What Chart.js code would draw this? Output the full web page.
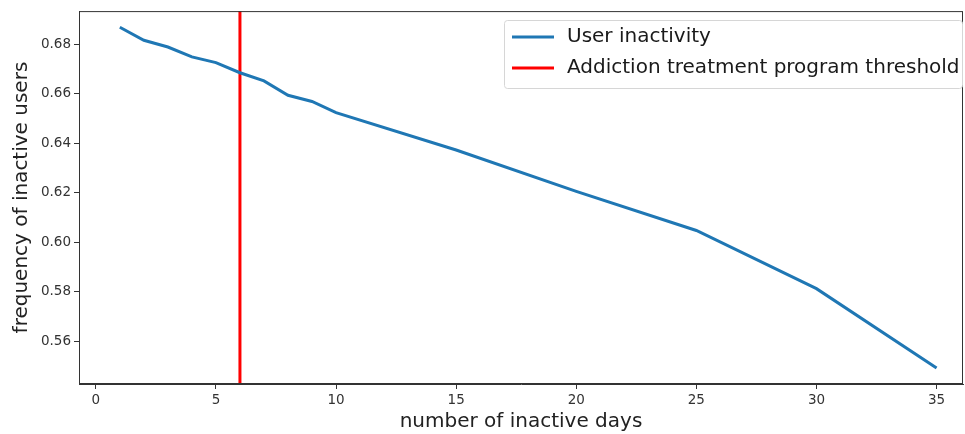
<!DOCTYPE html>
<html>
<head>
<meta charset="utf-8">
<script src="https://cdn.jsdelivr.net/npm/chart.js@4/dist/chart.umd.min.js"></script>
<style>
  html, body { margin: 0; padding: 0; background: #fff; }
  #wrap { width: 965px; height: 434px; }
</style>
</head>
<body>
<div id="wrap"><canvas id="inactivityChart" width="965" height="434"></canvas></div>
<script>
// inactive days and the share of users still inactive
const days = [1, 2, 3, 4, 5, 6, 7, 8, 9, 10, 15, 20, 25, 30, 35];
const inactiveFreq = [0.6868, 0.6815, 0.6788, 0.6748, 0.6725, 0.6684, 0.6651, 0.6593, 0.6568, 0.6523, 0.6372, 0.6205, 0.6047, 0.5812, 0.5492];
const thresholdDay = 6;
const xTicks = [0, 5, 10, 15, 20, 25, 30, 35];
const yTicks = [0.56, 0.58, 0.60, 0.62, 0.64, 0.66, 0.68];
const xRange = [-0.7, 36.1];
const yRange = [0.5427, 0.6933];

const seriesLabel = 'User inactivity';
const thresholdLabel = 'Addiction treatment program threshold';

const font = 'DejaVu Sans';

// frame on all four sides plus a matplotlib-like legend in the top right
const framePlugin = {
    id: 'frame',
    afterDraw(chart) {
        const { ctx, chartArea } = chart;
        ctx.save();
        ctx.strokeStyle = '#333';
        ctx.lineWidth = 1;
        ctx.strokeRect(chartArea.left + 0.5, chartArea.top + 0.5,
            chartArea.right - chartArea.left - 1, chartArea.bottom - chartArea.top - 1);

        // legend
        const boxX = 504, boxY = 20, boxW = 458, boxH = 68;
        ctx.fillStyle = 'rgba(255,255,255,0.8)';
        ctx.strokeStyle = '#d6d6d6';
        ctx.beginPath();
        ctx.roundRect(boxX + 0.5, boxY + 0.5, boxW, boxH, 3);
        ctx.fill();
        ctx.stroke();
        ctx.font = '20px "' + font + '"';
        ctx.textBaseline = 'middle';
        chart.data.datasets.forEach((ds, i) => {
            const y = boxY + 17 + i * 31;
            ctx.strokeStyle = ds.borderColor;
            ctx.lineWidth = 3;
            ctx.beginPath();
            ctx.moveTo(boxX + 8, y);
            ctx.lineTo(boxX + 50, y);
            ctx.stroke();
            ctx.fillStyle = '#1a1a1a';
            ctx.fillText(ds.label, boxX + 63, y);
        });
        ctx.restore();
    }
};

new Chart(document.getElementById('inactivityChart').getContext('2d'), {
    type: 'line',
    data: {
        datasets: [
            {
                label: seriesLabel,
                data: days.map((d, i) => ({ x: d, y: inactiveFreq[i] })),
                borderColor: '#1f77b4',
                borderWidth: 3,
                pointRadius: 0,
                tension: 0,
                fill: false,
            },
            {
                label: thresholdLabel,
                data: [{ x: thresholdDay, y: yRange[0] }, { x: thresholdDay, y: yRange[1] }],
                borderColor: '#ff0000',
                borderWidth: 3,
                pointRadius: 0,
                fill: false,
            },
        ],
    },
    options: {
        responsive: false,
        animation: false,
        layout: { padding: { top: 10, right: 2, bottom: 0, left: 10 } },
        plugins: {
            legend: { display: false },
            tooltip: { enabled: false },
        },
        scales: {
            x: {
                type: 'linear',
                min: xRange[0],
                max: xRange[1],
                afterBuildTicks: (scale) => { scale.ticks = xTicks.map(v => ({ value: v })); },
                afterFit: (scale) => { scale.height = 50; },
                grid: { drawOnChartArea: false, drawTicks: true, tickLength: 5, color: '#333' },
                border: { color: '#333' },
                ticks: {
                    color: '#333',
                    font: { family: font, size: 13.5 },
                    padding: 3,
                    maxRotation: 0,
                    callback: (v) => String(v),
                },
                title: {
                    display: true,
                    text: 'number of inactive days',
                    color: '#222',
                    font: { family: font, size: 20 },
                    padding: { top: 0, bottom: 0 },
                },
            },
            y: {
                type: 'linear',
                min: yRange[0],
                max: yRange[1],
                afterBuildTicks: (scale) => { scale.ticks = yTicks.map(v => ({ value: v })); },
                afterFit: (scale) => { scale.width = 69; },
                grid: { drawOnChartArea: false, drawTicks: true, tickLength: 5, color: '#333' },
                border: { color: '#333' },
                ticks: {
                    color: '#333',
                    font: { family: font, size: 13.5 },
                    padding: 3,
                    callback: (v) => Number(v).toFixed(2),
                },
                title: {
                    display: true,
                    text: 'frequency of inactive users',
                    color: '#222',
                    font: { family: font, size: 20 },
                    padding: { top: 0, bottom: 0 },
                },
            },
        },
    },
    plugins: [framePlugin],
});
</script>
</body>
</html>
